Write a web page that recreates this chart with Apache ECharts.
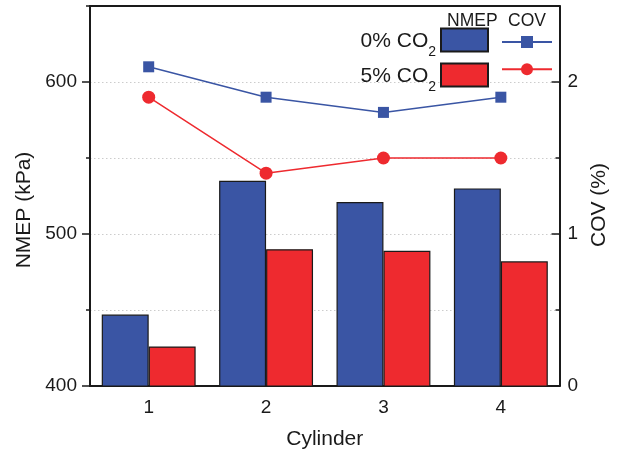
<!DOCTYPE html>
<html>
<head>
<meta charset="utf-8">
<script src="https://cdn.jsdelivr.net/npm/echarts@6/dist/echarts.min.js"></script>
<style>
  html, body { margin: 0; padding: 0; background: #fff; }
  #chart { width: 618px; height: 457px; }
</style>
</head>
<body>
<div id="chart"></div>
<script>
// Cylinder-by-cylinder NMEP (bars, left axis) and COV (lines, right axis)
const cylinders = ['1', '2', '3', '4'];
const nmepNoCO2 = [447, 535, 521, 530];
const nmepCO2 = [426, 490, 489, 482];
const covNoCO2 = [2.1, 1.9, 1.8, 1.9];
const covCO2 = [1.9, 1.4, 1.5, 1.5];

const nmepMajorTicks = [400, 500, 600];
const nmepMinorTicks = [450, 550, 650];
const covMajorTicks = [0, 1, 2];
const covMinorTicks = [0.5, 1.5, 2.5];
const halfSlots = ['', '', '', '', '', '', '', ''];

const BLUE = '#3A55A4';
const RED = '#EE2A2F';
const INK = '#1a1a1a';
const GRID = '#cccccc';
const FONT = '"Liberation Sans", Arial, sans-serif';

const chart = echarts.init(document.getElementById('chart'));

const axisLine = { show: true, lineStyle: { color: INK, width: 2 } };
const tickStyle = { color: INK, width: 1.5 };
const dotted = { color: GRID, type: [1.5, 2.5], width: 1 };

chart.setOption({
  animation: false,
  textStyle: { fontFamily: FONT },
  grid: { left: 90, right: 57, top: 6, bottom: 71 },
  xAxis: [
    {
      type: 'category', data: cylinders, position: 'bottom',
      axisLine: axisLine,
      axisTick: { alignWithLabel: true, length: 7, lineStyle: tickStyle },
      axisLabel: { fontSize: 19, color: INK, margin: 12, fontFamily: FONT },
      name: 'Cylinder', nameLocation: 'middle', nameGap: 43,
      nameTextStyle: { fontSize: 21, color: INK, fontFamily: FONT }
    },
    {
      type: 'category', data: cylinders, position: 'bottom',
      axisLine: { show: false },
      axisTick: { length: 4, lineStyle: tickStyle },
      axisLabel: { show: false }
    },
    {
      type: 'category', data: halfSlots, position: 'top',
      axisLine: axisLine,
      axisTick: { length: 5, lineStyle: tickStyle },
      axisLabel: { show: false }
    }
  ],
  yAxis: [
    {
      type: 'value', min: 400, max: 650, position: 'left',
      axisLine: axisLine,
      axisTick: { show: true, customValues: nmepMajorTicks, length: 8, lineStyle: tickStyle },
      axisLabel: { customValues: nmepMajorTicks, fontSize: 19, color: INK, margin: 13, fontFamily: FONT },
      splitLine: { show: true, lineStyle: dotted },
      name: 'NMEP (kPa)', nameLocation: 'middle', nameGap: 55, nameRotate: 90,
      nameTextStyle: { fontSize: 21, color: INK, fontFamily: FONT, padding: [0, 28, 0, 0] }
    },
    {
      type: 'value', min: 0, max: 2.5, position: 'right',
      axisLine: axisLine,
      axisTick: { show: true, inside: true, customValues: covMajorTicks, length: 8, lineStyle: tickStyle },
      axisLabel: { customValues: covMajorTicks, fontSize: 19, color: INK, margin: 8, fontFamily: FONT },
      splitLine: { show: false },
      name: 'COV (%)', nameLocation: 'middle', nameGap: 28, nameRotate: 90,
      nameTextStyle: { fontSize: 21, color: INK, fontFamily: FONT, padding: [0, 18, 0, 0] }
    },
    {
      type: 'value', min: 400, max: 650, position: 'left',
      axisLine: { show: false },
      axisTick: { show: true, customValues: nmepMinorTicks, length: 4, lineStyle: tickStyle },
      axisLabel: { show: false },
      splitLine: { show: true, lineStyle: dotted }
    },
    {
      type: 'value', min: 0, max: 2.5, position: 'right',
      axisLine: { show: false },
      axisTick: { show: true, inside: true, customValues: covMinorTicks, length: 4, lineStyle: tickStyle },
      axisLabel: { show: false },
      splitLine: { show: false }
    }
  ],
  legend: [
    {
      data: ['0% CO2 NMEP', '5% CO2 NMEP'],
      orient: 'vertical', right: 129, top: 27.5, align: 'right', padding: 0,
      icon: 'rect', itemWidth: 47, itemHeight: 23, itemGap: 3, selectedMode: false,
      formatter: function (name) {
        return '{a|' + name.replace(' NMEP', '').replace('CO2', 'CO') + '}{s|2}';
      },
      textStyle: {
        color: INK, fontFamily: FONT,
        rich: {
          a: { fontSize: 21, color: INK, fontFamily: FONT, verticalAlign: 'middle', padding: [3, 0, 0, 0] },
          s: { fontSize: 14, color: INK, fontFamily: FONT, verticalAlign: 'middle', padding: [25, 0, 0, 0] }
        }
      }
    },
    {
      data: ['0% CO2 COV', '5% CO2 COV'],
      orient: 'vertical', left: 501, top: 36, padding: 0,
      itemWidth: 50, itemHeight: 15, itemGap: 15.2, selectedMode: false,
      formatter: function () { return ''; },
      textStyle: { fontSize: 1, lineHeight: 1 }
    }
  ],
  graphic: [
    { type: 'text', left: 447, top: 12, style: { text: 'NMEP', fontSize: 17.5, fill: INK, fontFamily: FONT } },
    { type: 'text', left: 508, top: 12, style: { text: 'COV', fontSize: 17.5, fill: INK, fontFamily: FONT } }
  ],
  series: [
    {
      name: '0% CO2 NMEP', type: 'bar', xAxisIndex: 0, yAxisIndex: 0, data: nmepNoCO2,
      barGap: '0%', barCategoryGap: '20%',
      itemStyle: { color: BLUE, borderColor: INK, borderWidth: 1.2 }
    },
    {
      name: '5% CO2 NMEP', type: 'bar', xAxisIndex: 0, yAxisIndex: 0, data: nmepCO2,
      barGap: '0%', barCategoryGap: '20%',
      itemStyle: { color: RED, borderColor: INK, borderWidth: 1.2 }
    },
    {
      name: '0% CO2 COV', type: 'line', xAxisIndex: 0, yAxisIndex: 1, data: covNoCO2,
      symbol: 'rect', symbolSize: 11, z: 5,
      lineStyle: { color: BLUE, width: 1.5 }, itemStyle: { color: BLUE }
    },
    {
      name: '5% CO2 COV', type: 'line', xAxisIndex: 0, yAxisIndex: 1, data: covCO2,
      symbol: 'circle', symbolSize: 13, z: 5,
      lineStyle: { color: RED, width: 1.5 }, itemStyle: { color: RED }
    }
  ]
});
</script>
</body>
</html>
